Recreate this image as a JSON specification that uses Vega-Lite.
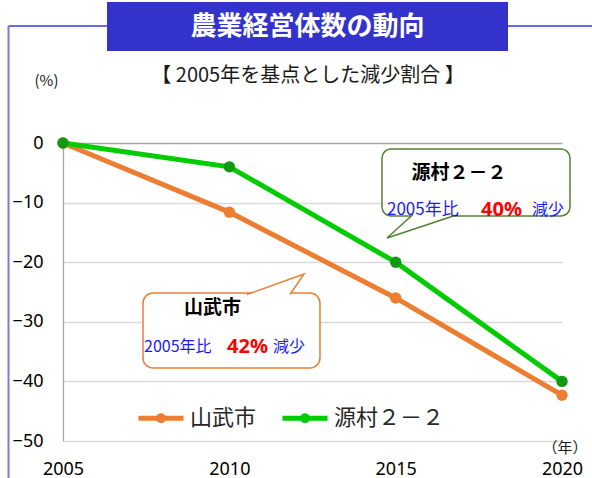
{
  "$schema": "https://vega.github.io/schema/vega-lite/v6.json",
  "width": 499,
  "height": 298,
  "autosize": {"type": "none"},
  "padding": {"left": 63, "top": 143, "right": 30, "bottom": 37},
  "background": "white",
  "config": {"view": {"stroke": null}, "font": "Noto Sans CJK JP"},
  "datasets": {
    "d": [
      {"year": 2005, "series": "山武市", "value": 0},
      {"year": 2010, "series": "山武市", "value": -11.6},
      {"year": 2015, "series": "山武市", "value": -26.0},
      {"year": 2020, "series": "山武市", "value": -42.3},
      {"year": 2005, "series": "源村２－２", "value": 0},
      {"year": 2010, "series": "源村２－２", "value": -4.0},
      {"year": 2015, "series": "源村２－２", "value": -20.0},
      {"year": 2020, "series": "源村２－２", "value": -40.0}
    ]
  },
  "layer": [
    {
      "data": {"values": [{}]},
      "mark": {"type": "rule", "color": "#3a3acf", "strokeWidth": 1.4},
      "encoding": {
        "x": {"datum": 2003.362, "type": "quantitative"},
        "x2": {"datum": 2020.902},
        "y": {"datum": 19.631, "type": "quantitative"}
      }
    },
    {
      "data": {"values": [{}]},
      "mark": {"type": "rule", "color": "#7a7ae0", "strokeWidth": 2},
      "encoding": {
        "x": {"datum": 2003.362, "type": "quantitative"},
        "y": {"datum": 19.631, "type": "quantitative"},
        "y2": {"datum": -56.3}
      }
    },
    {
      "data": {"values": [{}]},
      "mark": {"type": "rect", "color": "#3333cc", "opacity": 1},
      "encoding": {
        "x": {"datum": 2006.323, "type": "quantitative"},
        "x2": {"datum": 2018.377},
        "y": {"datum": 23.658, "type": "quantitative"},
        "y2": {"datum": 15.436}
      }
    },
    {
      "data": {"values": [{}]},
      "mark": {"type": "text", "text": "農業経営体数の動向", "font": "Noto Sans CJK JP", "fontSize": 26, "fontWeight": "bold", "color": "white", "align": "center", "baseline": "middle"},
      "encoding": {
        "x": {"datum": 2012.35, "type": "quantitative"},
        "y": {"datum": 19.463, "type": "quantitative"}
      }
    },
    {
      "data": {"values": [{}]},
      "mark": {"type": "text", "text": "【 2005年を基点とした減少割合 】", "font": "Noto Sans CJK JP", "fontSize": 20, "color": "#1a1a1a", "align": "center", "baseline": "middle"},
      "encoding": {
        "x": {"datum": 2012.365, "type": "quantitative"},
        "y": {"datum": 11.242, "type": "quantitative"}
      }
    },
    {
      "data": {"values": [{}]},
      "mark": {"type": "text", "text": "(%)", "font": "Noto Sans CJK JP", "fontSize": 15, "color": "#1a1a1a", "align": "center", "baseline": "middle"},
      "encoding": {
        "x": {"datum": 2004.504, "type": "quantitative"},
        "y": {"datum": 10.403, "type": "quantitative"}
      }
    },
    {
      "data": {"values": [{}]},
      "mark": {"type": "text", "text": "（年）", "font": "Noto Sans CJK JP", "fontSize": 15, "color": "#1a1a1a", "align": "center", "baseline": "middle"},
      "encoding": {
        "x": {"datum": 2020.09, "type": "quantitative"},
        "y": {"datum": -51.174, "type": "quantitative"}
      }
    },
    {
      "data": {"name": "d"},
      "mark": {"type": "line", "strokeWidth": 5},
      "encoding": {
        "x": {
          "field": "year", "type": "quantitative",
          "scale": {"domain": [2005, 2020], "nice": false, "zero": false},
          "axis": {"values": [2005, 2010, 2015, 2020], "format": "d", "title": null, "grid": false, "domain": false, "ticks": false, "tickSize": 0, "labelPadding": 19, "labelFontSize": 18, "labelFont": "Noto Sans", "labelColor": "#000000", "labelFlush": false, "labelOverlap": false}
        },
        "y": {
          "field": "value", "type": "quantitative",
          "scale": {"domain": [-50, 0], "nice": false, "zero": false},
          "axis": {"values": [0, -10, -20, -30, -40, -50], "title": null, "grid": true, "gridColor": {"condition": {"test": "datum.value === 0", "value": "#a6a6a6"}, "value": "#d9d9d9"}, "gridWidth": 1.3, "domainColor": "#a6a6a6", "domainWidth": 1.3, "ticks": false, "tickSize": 0, "labelPadding": 20, "labelFontSize": 18, "labelFont": "Noto Sans", "labelColor": "#000000", "labelFlush": false}
        },
        "color": {
          "field": "series", "type": "nominal",
          "scale": {"domain": ["山武市", "源村２－２"], "range": ["#ed7d31", "#00cc00"]},
          "legend": {
            "title": null, "orient": "none", "legendX": 73, "legendY": 250, "direction": "horizontal",
            "symbolType": "M-1,0L1,0M0.111,0A0.111,0.111,0,1,1,-0.111,0A0.111,0.111,0,1,1,0.111,0Z",
            "symbolSize": 2025, "symbolStrokeWidth": 5, "symbolOpacity": 1,
            "labelFont": "Noto Sans CJK JP", "labelFontSize": 22, "labelColor": "#262626", "labelOffset": 4, "labelLimit": 300,
            "columnPadding": 15, "padding": 0,
            "encode": {"symbols": {"update": {"fill": {"scale": "color", "field": "value"}}}}
          }
        }
      }
    },
    {
      "data": {"name": "d"},
      "mark": {"type": "circle", "size": 130, "opacity": 1},
      "encoding": {
        "x": {"field": "year", "type": "quantitative"},
        "y": {"field": "value", "type": "quantitative"},
        "fill": {
          "field": "series", "type": "nominal",
          "scale": {"domain": ["山武市", "源村２－２"], "range": ["#ed7d31", "#129912"]},
          "legend": null
        }
      }
    },
    {
      "data": {"values": [{}]},
      "mark": {"type": "rect", "fill": "white", "stroke": "#548235", "strokeWidth": 1.5, "cornerRadius": 9},
      "encoding": {
        "x": {"datum": 2014.589, "type": "quantitative"},
        "x2": {"datum": 2020.24},
        "y": {"datum": -1.007, "type": "quantitative"},
        "y2": {"datum": -12.248}
      }
    },
    {
      "data": {"values": [{}]},
      "mark": {"type": "point", "shape": "M22.5,-1.5L-48.5,22L-22.5,-1.5", "size": 4, "filled": true, "fill": "white", "stroke": "#548235", "strokeWidth": 1.5, "opacity": 1},
      "encoding": {
        "x": {"datum": 2016.197, "type": "quantitative"},
        "y": {"datum": -12.248, "type": "quantitative"}
      }
    },
    {
      "data": {"values": [{}]},
      "mark": {"type": "text", "text": "源村２－２", "font": "Noto Sans CJK JP", "fontSize": 19, "fontWeight": "bold", "color": "#000000", "align": "center", "baseline": "middle"},
      "encoding": {
        "x": {"datum": 2016.904, "type": "quantitative"},
        "y": {"datum": -5.1, "type": "quantitative"}
      }
    },
    {
      "data": {"values": [{}]},
      "mark": {"type": "text", "text": "2005年比", "font": "Noto Sans CJK JP", "fontSize": 17, "color": "#1a1aff", "align": "left", "baseline": "middle"},
      "encoding": {
        "x": {"datum": 2014.739, "type": "quantitative"},
        "y": {"datum": -11.242, "type": "quantitative"}
      }
    },
    {
      "data": {"values": [{}]},
      "mark": {"type": "text", "text": "40%", "font": "Noto Sans", "fontSize": 20, "fontWeight": "bold", "color": "#ff0000", "align": "center", "baseline": "middle"},
      "encoding": {
        "x": {"datum": 2018.181, "type": "quantitative"},
        "y": {"datum": -11.3, "type": "quantitative"}
      }
    },
    {
      "data": {"values": [{}]},
      "mark": {"type": "text", "text": "減少", "font": "Noto Sans CJK JP", "fontSize": 16, "color": "#1a1aff", "align": "center", "baseline": "middle"},
      "encoding": {
        "x": {"datum": 2019.579, "type": "quantitative"},
        "y": {"datum": -11.242, "type": "quantitative"}
      }
    },
    {
      "data": {"values": [{}]},
      "mark": {"type": "rect", "fill": "white", "stroke": "#ed7d31", "strokeWidth": 1.5, "cornerRadius": 10},
      "encoding": {
        "x": {"datum": 2007.405, "type": "quantitative"},
        "x2": {"datum": 2012.725},
        "y": {"datum": -25.168, "type": "quantitative"},
        "y2": {"datum": -37.752}
      }
    },
    {
      "data": {"values": [{}]},
      "mark": {"type": "point", "shape": "M-21.5,1.5L35.5,-19L21.5,1.5", "size": 4, "filled": true, "fill": "white", "stroke": "#ed7d31", "strokeWidth": 1.5, "opacity": 1},
      "encoding": {
        "x": {"datum": 2011.177, "type": "quantitative"},
        "y": {"datum": -25.168, "type": "quantitative"}
      }
    },
    {
      "data": {"values": [{}]},
      "mark": {"type": "text", "text": "山武市", "font": "Noto Sans CJK JP", "fontSize": 19, "fontWeight": "bold", "color": "#000000", "align": "center", "baseline": "middle"},
      "encoding": {
        "x": {"datum": 2009.494, "type": "quantitative"},
        "y": {"datum": -27.685, "type": "quantitative"}
      }
    },
    {
      "data": {"values": [{}]},
      "mark": {"type": "text", "text": "2005年比", "font": "Noto Sans CJK JP", "fontSize": 16, "color": "#1a1aff", "align": "left", "baseline": "middle"},
      "encoding": {
        "x": {"datum": 2007.435, "type": "quantitative"},
        "y": {"datum": -34.228, "type": "quantitative"}
      }
    },
    {
      "data": {"values": [{}]},
      "mark": {"type": "text", "text": "42%", "font": "Noto Sans", "fontSize": 20, "fontWeight": "bold", "color": "#ff0000", "align": "center", "baseline": "middle"},
      "encoding": {
        "x": {"datum": 2010.546, "type": "quantitative"},
        "y": {"datum": -34.3, "type": "quantitative"}
      }
    },
    {
      "data": {"values": [{}]},
      "mark": {"type": "text", "text": "減少", "font": "Noto Sans CJK JP", "fontSize": 16, "color": "#1a1aff", "align": "center", "baseline": "middle"},
      "encoding": {
        "x": {"datum": 2011.794, "type": "quantitative"},
        "y": {"datum": -34.228, "type": "quantitative"}
      }
    }
  ]
}
